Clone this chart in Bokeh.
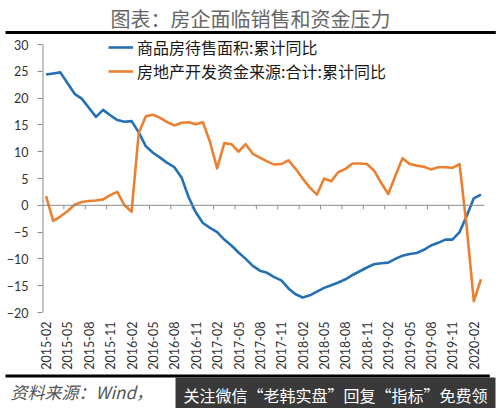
from bokeh.plotting import figure
from bokeh.layouts import column
from bokeh.models import Range1d, FixedTicker, Label, Legend, LegendItem, Span
from bokeh.embed import file_html
from bokeh.resources import INLINE

# ---- data ----
months = [f"{y}-{m:02d}" for y in range(2015, 2021) for m in range(1, 13)]
months = months[months.index("2015-02"): months.index("2020-03") + 1]

inventory_yoy = [24.4, 24.6, 24.8, 22.8, 20.8, 19.9, 18.2, 16.5, 17.8, 16.8,
                 15.9, 15.6, 15.7, 13.6, 11.0, 9.8, 8.9, 7.9, 7.1, 5.2,
                 1.5, -1.3, -3.3, -4.2, -5.0, -6.4, -7.5, -8.8, -10.0, -11.3,
                 -12.2, -12.6, -13.4, -14.0, -15.5, -16.6, -17.2, -16.8, -16.1, -15.4,
                 -14.9, -14.4, -13.8, -13.0, -12.3, -11.6, -11.0, -10.8, -10.7, -10.0,
                 -9.4, -9.1, -8.9, -8.3, -7.5, -7.0, -6.4, -6.4, -5.0, -2.0,
                 1.3, 2.0]

funding_yoy = [1.7, -2.9, -2.1, -1.1, 0.1, 0.6, 0.8, 0.9, 1.1, 1.9,
               2.5, 0.0, -1.2, 13.5, 16.6, 16.9, 16.3, 15.5, 14.9, 15.4,
               15.5, 15.1, 15.5, 11.8, 6.9, 11.6, 11.4, 10.0, 11.4, 9.6,
               8.9, 8.2, 7.6, 7.7, 8.4, 6.8, 5.0, 3.3, 2.0, 5.0,
               4.5, 6.2, 6.8, 7.8, 7.8, 7.7, 6.5, 4.2, 2.1, 5.5,
               8.8, 7.7, 7.4, 7.2, 6.7, 7.1, 7.1, 7.0, 7.7, -4.0,
               -17.9, -13.8]

series_names = ["商品房待售面积:累计同比", "房地产开发资金来源:合计:累计同比"]
y_ticks = [-20, -15, -10, -5, 0, 5, 10, 15, 20, 25, 30]
tick_step = 3

title_text = "图表：房企面临销售和资金压力"
source_text = "资料来源：Wind，"
watermark_text = "关注微信“老韩实盘”回复“指标”免费领"

idx = list(range(len(months)))
tick_idx = idx[::tick_step]
tick_labels = {i: months[i] for i in tick_idx}

BLUE = "#2470B4"
ORANGE = "#EB8130"
AXIS = "#8a8a8a"
W = 500


def strip(height):
    f = figure(width=W, height=height, x_range=Range1d(0, W), y_range=Range1d(0, height),
               output_backend="svg", toolbar_location=None, x_axis_type=None,
               y_axis_type=None, min_border=0, min_border_left=0, min_border_right=0,
               min_border_top=0, min_border_bottom=0, frame_align=False)
    f.grid.visible = False
    f.outline_line_color = None
    return f


def rule(x_left, length, y):
    # thick black horizontal rule drawn as a filled label box
    return Label(x=x_left, y=y, text=" ", text_font_size="1px", text_align="left",
                 text_baseline="middle", text_color="black",
                 background_fill_color="black", background_fill_alpha=1,
                 padding=(int(length // 2), 1))


# ---------------- top strip: title + rule (page y 0..34) ----------------
TOP_H = 34
top = strip(TOP_H)
top.add_layout(Label(x=250, y=TOP_H - 18, text=title_text, text_align="center",
                     text_baseline="middle", text_font="Noto Sans CJK SC",
                     text_font_size="20px", text_color="#666666"))
top.add_layout(rule(5, 490, TOP_H - 32))

# ---------------- main chart (page y 34..373) ----------------
PX_PER_UNIT = 268 / 50.0
X0, X1 = -0.5, len(months) - 0.5
Y0 = min(y_ticks)
FRAME_TOP_GAP = 10
Y1 = max(y_ticks) + FRAME_TOP_GAP / PX_PER_UNIT
MAIN_H = 339

p = figure(width=W, height=MAIN_H, x_range=Range1d(X0, X1), y_range=Range1d(Y0, Y1),
           output_backend="svg", toolbar_location=None, frame_align=False,
           min_border_left=42, min_border_right=16, min_border_top=0, min_border_bottom=61)
p.grid.visible = False
p.outline_line_color = None

# y axis (line drawn separately so it stops at the top tick)
p.yaxis.ticker = FixedTicker(ticks=y_ticks)
p.yaxis.axis_line_color = None
p.yaxis.major_tick_line_color = AXIS
p.yaxis.major_tick_out = 5
p.yaxis.major_tick_in = 0
p.yaxis.minor_tick_line_color = None
p.yaxis.minor_tick_out = 0
p.yaxis.major_label_standoff = 9
p.yaxis.major_label_text_font = "Lato"
p.yaxis.major_label_text_font_size = "12.5px"
p.yaxis.major_label_text_color = "#333333"
p.segment(x0=[X0], y0=[Y0], x1=[X0], y1=[max(y_ticks)], line_color=AXIS, line_width=2)

# x axis (labels only, at bottom)
p.xaxis.ticker = FixedTicker(ticks=tick_idx)
p.xaxis.major_label_overrides = tick_labels
p.xaxis.major_label_orientation = 3.14159265 / 2
p.xaxis.axis_line_color = None
p.xaxis.major_tick_line_color = None
p.xaxis.minor_tick_line_color = None
p.xaxis.major_tick_out = 0
p.xaxis.minor_tick_out = 0
p.xaxis.major_label_standoff = 9
p.xaxis.major_label_text_font = "Lato"
p.xaxis.major_label_text_font_size = "12.5px"
p.xaxis.major_label_text_color = "#333333"

# zero line with tick marks between categories
p.add_layout(Span(location=0, dimension="width", line_color=AXIS, line_width=1))
tick_between = [i - 0.5 for i in idx[tick_step::tick_step]]
tick_len = 4 / PX_PER_UNIT
p.segment(x0=tick_between, y0=[0] * len(tick_between), x1=tick_between,
          y1=[-tick_len] * len(tick_between), line_color=AXIS, line_width=1)

r1 = p.line(idx, inventory_yoy, line_color=BLUE, line_width=2.6, line_join="round")
r2 = p.line(idx, funding_yoy, line_color=ORANGE, line_width=2.6, line_join="round")

legend = Legend(items=[LegendItem(label=series_names[0], renderers=[r1]),
                       LegendItem(label=series_names[1], renderers=[r2])],
                location=(66, 229), orientation="vertical",
                padding=0, margin=0, spacing=0, glyph_width=25, glyph_height=20,
                label_height=20, label_standoff=4,
                label_text_font="Noto Sans CJK SC", label_text_font_size="16px",
                label_text_color="#1a1a1a",
                border_line_color=None, background_fill_alpha=0)
p.add_layout(legend)

# ---------------- bottom strip: rule, source, watermark (page y 373..408) ----------------
BOT_H = 35
bot = strip(BOT_H)
bot.add_layout(rule(5, 485, BOT_H - 2.5))
bot.add_layout(Label(x=10, y=BOT_H - 18, text=source_text, text_align="left",
                     text_baseline="middle", text_font="Noto Sans CJK SC",
                     text_font_size="17px", text_font_style="italic", text_color="#555555"))
bot.add_layout(Label(x=175, y=BOT_H - 21, text=watermark_text, text_align="left",
                     text_baseline="middle", text_font="Noto Sans CJK SC",
                     text_font_size="16px", text_color="white",
                     background_fill_color="#2e2e2e", background_fill_alpha=0.95,
                     padding=(8, 5)))

layout = column(top, p, bot, spacing=0)
open("out.html", "w").write(file_html(layout, INLINE))
